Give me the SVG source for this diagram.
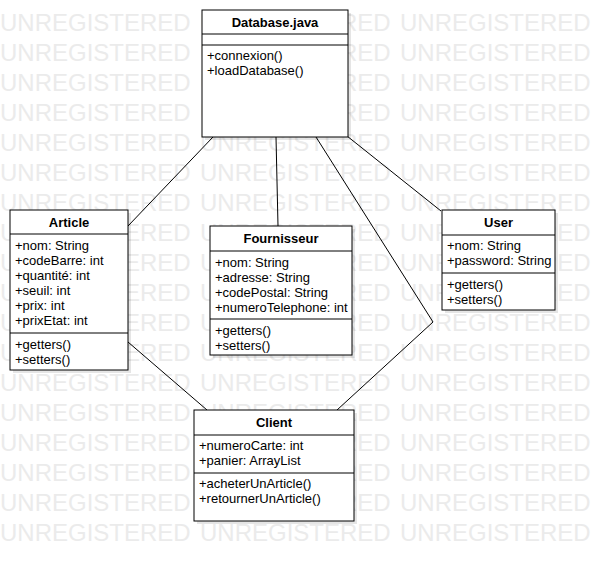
<svg xmlns="http://www.w3.org/2000/svg" width="595" height="562" viewBox="0 0 595 562">
<style>
.wm{font-family:"Liberation Sans",Arial,sans-serif;font-size:24px;fill:#ebebeb}
.box{fill:#fff;stroke:#000;stroke-width:1}
.sh{fill:#000;opacity:0.1}
.sep{stroke:#000;stroke-width:1}
.t{font-family:"Liberation Sans",Arial,sans-serif;font-size:13px;fill:#000}
.h{font-family:"Liberation Sans",Arial,sans-serif;font-size:13px;font-weight:bold;fill:#000;text-anchor:middle}
.c{fill:none;stroke:#000;stroke-width:1}
</style>
<rect width="595" height="562" fill="#fff"/>
<g id="watermark">
<text class="wm" x="0" y="31">UNREGISTERED</text><text class="wm" x="200" y="31">UNREGISTERED</text><text class="wm" x="400" y="31">UNREGISTERED</text>
<text class="wm" x="0" y="61">UNREGISTERED</text><text class="wm" x="200" y="61">UNREGISTERED</text><text class="wm" x="400" y="61">UNREGISTERED</text>
<text class="wm" x="0" y="91">UNREGISTERED</text><text class="wm" x="200" y="91">UNREGISTERED</text><text class="wm" x="400" y="91">UNREGISTERED</text>
<text class="wm" x="0" y="121">UNREGISTERED</text><text class="wm" x="200" y="121">UNREGISTERED</text><text class="wm" x="400" y="121">UNREGISTERED</text>
<text class="wm" x="0" y="151">UNREGISTERED</text><text class="wm" x="200" y="151">UNREGISTERED</text><text class="wm" x="400" y="151">UNREGISTERED</text>
<text class="wm" x="0" y="181">UNREGISTERED</text><text class="wm" x="200" y="181">UNREGISTERED</text><text class="wm" x="400" y="181">UNREGISTERED</text>
<text class="wm" x="0" y="211">UNREGISTERED</text><text class="wm" x="200" y="211">UNREGISTERED</text><text class="wm" x="400" y="211">UNREGISTERED</text>
<text class="wm" x="0" y="241">UNREGISTERED</text><text class="wm" x="200" y="241">UNREGISTERED</text><text class="wm" x="400" y="241">UNREGISTERED</text>
<text class="wm" x="0" y="271">UNREGISTERED</text><text class="wm" x="200" y="271">UNREGISTERED</text><text class="wm" x="400" y="271">UNREGISTERED</text>
<text class="wm" x="0" y="301">UNREGISTERED</text><text class="wm" x="200" y="301">UNREGISTERED</text><text class="wm" x="400" y="301">UNREGISTERED</text>
<text class="wm" x="0" y="331">UNREGISTERED</text><text class="wm" x="200" y="331">UNREGISTERED</text><text class="wm" x="400" y="331">UNREGISTERED</text>
<text class="wm" x="0" y="361">UNREGISTERED</text><text class="wm" x="200" y="361">UNREGISTERED</text><text class="wm" x="400" y="361">UNREGISTERED</text>
<text class="wm" x="0" y="391">UNREGISTERED</text><text class="wm" x="200" y="391">UNREGISTERED</text><text class="wm" x="400" y="391">UNREGISTERED</text>
<text class="wm" x="0" y="421">UNREGISTERED</text><text class="wm" x="200" y="421">UNREGISTERED</text><text class="wm" x="400" y="421">UNREGISTERED</text>
<text class="wm" x="0" y="451">UNREGISTERED</text><text class="wm" x="200" y="451">UNREGISTERED</text><text class="wm" x="400" y="451">UNREGISTERED</text>
<text class="wm" x="0" y="481">UNREGISTERED</text><text class="wm" x="200" y="481">UNREGISTERED</text><text class="wm" x="400" y="481">UNREGISTERED</text>
<text class="wm" x="0" y="511">UNREGISTERED</text><text class="wm" x="200" y="511">UNREGISTERED</text><text class="wm" x="400" y="511">UNREGISTERED</text>
<text class="wm" x="0" y="541">UNREGISTERED</text><text class="wm" x="200" y="541">UNREGISTERED</text><text class="wm" x="400" y="541">UNREGISTERED</text>
</g>
<g id="connectors">
<line class="c" x1="213" y1="137" x2="128" y2="226"/>
<line class="c" x1="276" y1="137" x2="278" y2="226"/>
<polyline class="c" points="316,137 433,322 337,410"/>
<line class="c" x1="347" y1="136" x2="441" y2="211"/>
<line class="c" x1="128" y1="342" x2="207" y2="410"/>
</g>
<g id="database">
<rect class="sh" x="205" y="13" width="146" height="127"/>
<rect class="box" x="202" y="10" width="146" height="127"/>
<line class="sep" x1="202" y1="34" x2="348" y2="34"/>
<line class="sep" x1="202" y1="45" x2="348" y2="45"/>
<text class="h" x="275" y="27">Database.java</text>
<text class="t" x="207" y="59.5">+connexion()</text>
<text class="t" x="207" y="75">+loadDatabase()</text>
</g>
<g id="article">
<rect class="sh" x="13" y="213" width="118" height="160"/>
<rect class="box" x="10" y="210" width="118" height="160"/>
<line class="sep" x1="10" y1="234" x2="128" y2="234"/>
<line class="sep" x1="10" y1="333" x2="128" y2="333"/>
<text class="h" x="69" y="227">Article</text>
<text class="t" x="15" y="249.5">+nom: String</text>
<text class="t" x="15" y="264.5">+codeBarre: int</text>
<text class="t" x="15" y="279.5">+quantité: int</text>
<text class="t" x="15" y="294.5">+seuil: int</text>
<text class="t" x="15" y="309.5">+prix: int</text>
<text class="t" x="15" y="324.5">+prixEtat: int</text>
<text class="t" x="15" y="348.5">+getters()</text>
<text class="t" x="15" y="363.5">+setters()</text>
</g>
<g id="fournisseur">
<rect class="sh" x="213" y="229" width="142" height="129"/>
<rect class="box" x="210" y="226" width="142" height="129"/>
<line class="sep" x1="210" y1="251" x2="352" y2="251"/>
<line class="sep" x1="210" y1="319" x2="352" y2="319"/>
<text class="h" x="281" y="243">Fournisseur</text>
<text class="t" x="215" y="266.5">+nom: String</text>
<text class="t" x="215" y="281.5">+adresse: String</text>
<text class="t" x="215" y="296.5">+codePostal: String</text>
<text class="t" x="215" y="311.5">+numeroTelephone: int</text>
<text class="t" x="215" y="334.5">+getters()</text>
<text class="t" x="215" y="349.5">+setters()</text>
</g>
<g id="user">
<rect class="sh" x="445" y="213" width="113" height="100"/>
<rect class="box" x="442" y="210" width="113" height="100"/>
<line class="sep" x1="442" y1="235" x2="555" y2="235"/>
<line class="sep" x1="442" y1="273" x2="555" y2="273"/>
<text class="h" x="498.5" y="227">User</text>
<text class="t" x="447" y="250">+nom: String</text>
<text class="t" x="447" y="265">+password: String</text>
<text class="t" x="447" y="288.5">+getters()</text>
<text class="t" x="447" y="303.5">+setters()</text>
</g>
<g id="client">
<rect class="sh" x="197" y="413" width="160" height="111"/>
<rect class="box" x="194" y="410" width="160" height="111"/>
<line class="sep" x1="194" y1="435" x2="354" y2="435"/>
<line class="sep" x1="194" y1="473" x2="354" y2="473"/>
<text class="h" x="274" y="427">Client</text>
<text class="t" x="199" y="450">+numeroCarte: int</text>
<text class="t" x="199" y="465">+panier: ArrayList</text>
<text class="t" x="199" y="488">+acheterUnArticle()</text>
<text class="t" x="199" y="503">+retournerUnArticle()</text>
</g>
</svg>
